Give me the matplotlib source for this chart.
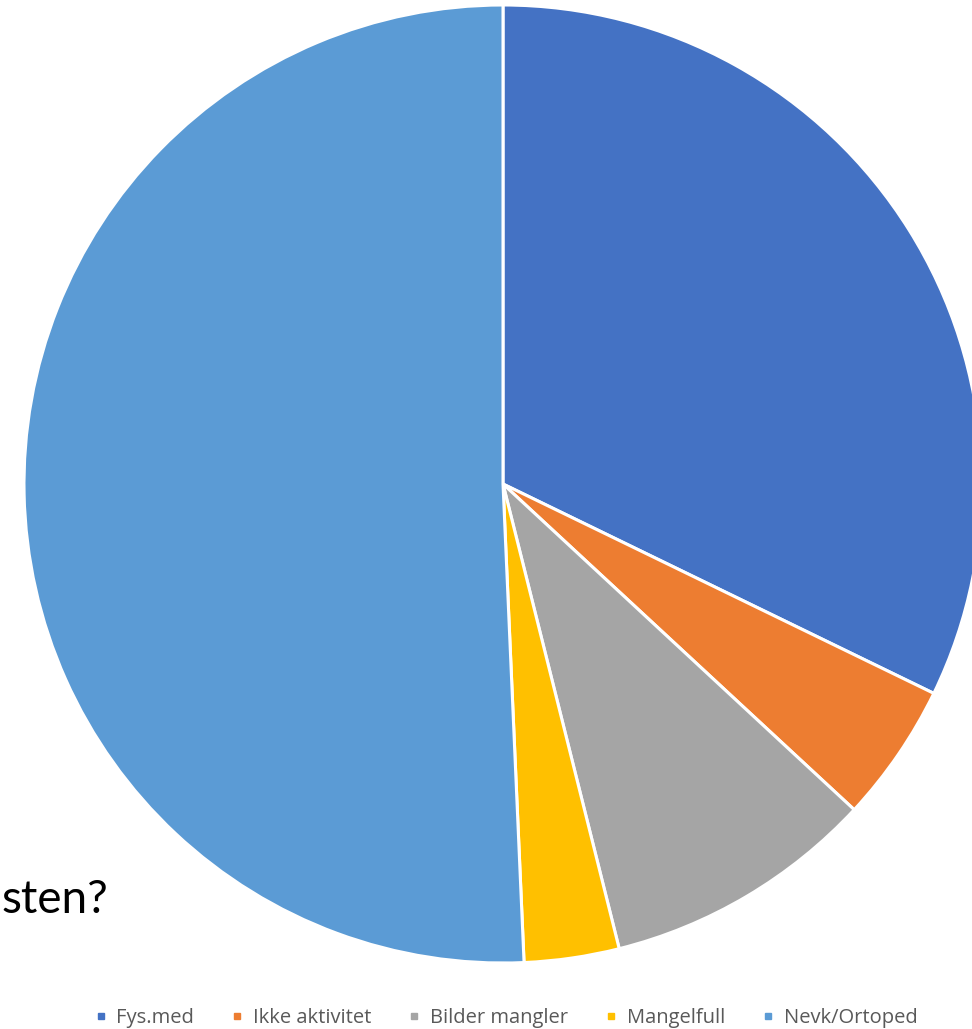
import matplotlib.pyplot as plt
from matplotlib.lines import Line2D

# slice data (clockwise from 12 o'clock)
labels = ['Fys.med', 'Ikke aktivitet', 'Bilder mangler', 'Mangelfull', 'Nevk/Ortoped']
values = [32.2, 4.7, 9.2, 3.2, 50.7]
colors = ['#4472C4', '#ED7D31', '#A5A5A5', '#FFC000', '#5B9BD5']

W, H = 972, 1029
fig = plt.figure(figsize=(W / 100, H / 100), dpi=100)
ax = fig.add_axes([0, 0, 1, 1])

# leftover slide text peeking out behind the pie
ax.text(1, H - 913, 'sten?', fontsize=33, family='Lato', color='black',
        ha='left', va='baseline', zorder=0)

ax.pie(values, colors=colors, startangle=90, counterclock=False,
       center=(503, H - 484), radius=479, frame=True,
       wedgeprops=dict(edgecolor='white', linewidth=2.2))
ax.set_xlim(0, W)
ax.set_ylim(0, H)
ax.set_aspect('equal')
ax.axis('off')

# legend along the bottom
handles = [Line2D([], [], marker='s', linestyle='', markersize=5,
                  markerfacecolor=c, markeredgecolor=c) for c in colors]
fig.legend(handles, labels, loc='center', bbox_to_anchor=(505 / W, 1 - 1018 / H),
           ncol=5, frameon=False, handletextpad=0.37, columnspacing=1.75,
           handlelength=0.8, borderpad=0, prop={'family': 'Open Sans', 'size': 14.5},
           labelcolor='#595959')

fig.savefig('out.png', dpi=100)
